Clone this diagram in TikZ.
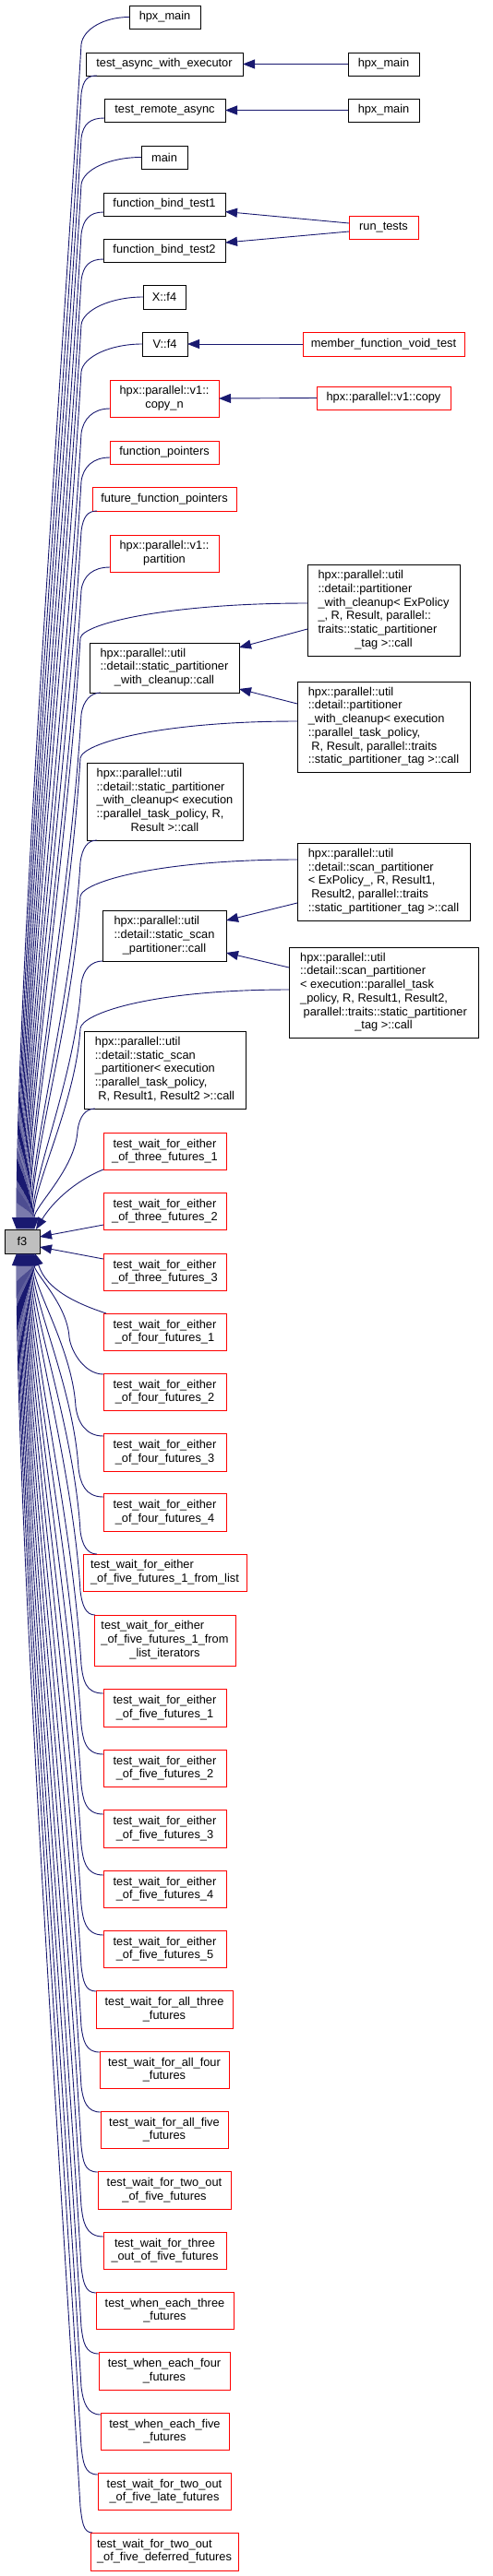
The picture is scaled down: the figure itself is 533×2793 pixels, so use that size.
\documentclass[tikz,border=0pt]{standalone}
\usepackage{fontspec}
\setmainfont{Liberation Sans}
\usetikzlibrary{arrows.meta}
\definecolor{eblue}{RGB}{25,25,112}
\definecolor{fgray}{RGB}{191,191,191}
\newcommand\bx[7]{\node[#6, minimum width={#4-#2}, minimum height={#5-#3}] (#1) at ({(#2+#4)/2},{(#3+#5)/2}) {#7};}
\newcommand\ce[6]{\pgfmathsetmacro\Lcl{0.35*abs(1346-#3)}%
  \draw[cal] (#1) .. controls +(-#6,0) and +(2,{-16*(#5)}) .. (#2,#3) .. controls +({-0.06*\Lcl},{(#5)*\Lcl}) and +(0,{-0.6*(#5)*\Lcl}) .. (#4);}
\newcommand\lct[2]{\begin{tabular}{@{}l@{}}#1\\\multicolumn{1}{@{}c@{}}{#2}\end{tabular}}
\newcommand\lft[1]{\begin{tabular}{@{}l@{}}#1\end{tabular}}
\begin{document}
\begin{tikzpicture}[x=1pt,y=-1pt,
  bk/.style={draw=black, line width=1pt, fill=white, inner sep=0pt, outer sep=0pt, font=\fontsize{12.8}{14.7}\selectfont, align=center},
  rd/.style={bk, draw=red},
  gy/.style={bk, fill=fgray},
  cal/.style={draw=eblue, line width=0.9pt, -{Triangle[length=13pt,width=10pt]}}]
\useasboundingbox (0,0) rectangle (533,2793);
% nodes
\bx{hm0}{140}{6}{217}{31}{bk}{hpx\_main}
\bx{tawe}{93}{57}{263}{82}{bk}{test\_async\_with\_executor}
\bx{hm1}{377}{57}{454}{82}{bk}{hpx\_main}
\bx{tra}{113}{107}{244}{132}{bk}{test\_remote\_async}
\bx{hm2}{377}{107}{454}{132}{bk}{hpx\_main}
\bx{mn}{153}{158}{203}{183}{bk}{main}
\bx{fb1}{112}{209}{244}{234}{bk}{function\_bind\_test1}
\bx{rt}{378}{234}{453}{259}{rd}{run\_tests}
\bx{fb2}{112}{259}{244}{284}{bk}{function\_bind\_test2}
\bx{xf}{155}{309}{201}{335}{bk}{X::f4}
\bx{vf}{154}{360}{203}{386}{bk}{V::f4}
\bx{mfv}{328}{360}{503}{386}{rd}{member\_function\_void\_test}
\bx{cpn}{119}{412}{237}{452}{rd}{hpx::parallel::v1::\\copy\_n}
\bx{cpy}{343}{419}{488}{444}{rd}{hpx::parallel::v1::copy}
\bx{fp}{119}{478}{237}{503}{rd}{function\_pointers}
\bx{ffp}{100}{528}{256}{554}{rd}{future\_function\_pointers}
\bx{prt}{119}{580}{237}{620}{rd}{hpx::parallel::v1::\\partition}
\bx{pwe}{333}{612}{498}{711}{bk}{\lct{hpx::parallel::util\\::detail::partitioner\\\_with\_cleanup< ExPolicy\\\_, R, Result, parallel::\\traits::static\_partitioner}{\_tag >::call}}
\bx{spw}{97}{697}{259}{751}{bk}{\lct{hpx::parallel::util\\::detail::static\_partitioner}{\_with\_cleanup::call}}
\bx{pwx}{322}{739}{509}{837}{bk}{\lct{hpx::parallel::util\\::detail::partitioner\\\_with\_cleanup< execution\\::parallel\_task\_policy,\\\ R, Result, parallel::traits}{::static\_partitioner\_tag >::call}}
\bx{spx}{94}{827}{263}{911}{bk}{\lct{hpx::parallel::util\\::detail::static\_partitioner\\\_with\_cleanup< execution\\::parallel\_task\_policy, R,}{Result >::call}}
\bx{spe}{322}{914}{509}{998}{bk}{\lct{hpx::parallel::util\\::detail::scan\_partitioner\\< ExPolicy\_, R, Result1,\\\ Result2, parallel::traits}{::static\_partitioner\_tag >::call}}
\bx{ssp}{111}{987}{245}{1042}{bk}{\lct{hpx::parallel::util\\::detail::static\_scan}{\_partitioner::call}}
\bx{spxx}{313}{1027}{518}{1125}{bk}{\lct{hpx::parallel::util\\::detail::scan\_partitioner\\< execution::parallel\_task\\\_policy, R, Result1, Result2,\\\ parallel::traits::static\_partitioner}{\_tag >::call}}
\bx{sspx}{91}{1118}{266}{1202}{bk}{\lct{hpx::parallel::util\\::detail::static\_scan\\\_partitioner< execution\\::parallel\_task\_policy,}{\ R, Result1, Result2 >::call}}
\bx{f3}{5}{1333}{43}{1359}{gy}{f3}
\bx{t31}{112}{1228}{245}{1268}{rd}{test\_wait\_for\_either\\\_of\_three\_futures\_1}
\bx{t32}{112}{1293}{245}{1333}{rd}{test\_wait\_for\_either\\\_of\_three\_futures\_2}
\bx{t33}{112}{1359}{245}{1399}{rd}{test\_wait\_for\_either\\\_of\_three\_futures\_3}
\bx{t41}{112}{1424}{245}{1464}{rd}{test\_wait\_for\_either\\\_of\_four\_futures\_1}
\bx{t42}{112}{1489}{245}{1529}{rd}{test\_wait\_for\_either\\\_of\_four\_futures\_2}
\bx{t43}{112}{1554}{245}{1595}{rd}{test\_wait\_for\_either\\\_of\_four\_futures\_3}
\bx{t44}{112}{1619}{245}{1660}{rd}{test\_wait\_for\_either\\\_of\_four\_futures\_4}
\bx{t5l}{90}{1685}{267}{1725}{rd}{\lft{test\_wait\_for\_either\\\_of\_five\_futures\_1\_from\_list}}
\bx{t5i}{102}{1751}{255}{1806}{rd}{\lct{test\_wait\_for\_either\\\_of\_five\_futures\_1\_from}{\_list\_iterators}}
\bx{t51}{112}{1831}{245}{1872}{rd}{test\_wait\_for\_either\\\_of\_five\_futures\_1}
\bx{t52}{112}{1897}{245}{1937}{rd}{test\_wait\_for\_either\\\_of\_five\_futures\_2}
\bx{t53}{112}{1962}{245}{2003}{rd}{test\_wait\_for\_either\\\_of\_five\_futures\_3}
\bx{t54}{112}{2028}{245}{2068}{rd}{test\_wait\_for\_either\\\_of\_five\_futures\_4}
\bx{t55}{112}{2093}{245}{2133}{rd}{test\_wait\_for\_either\\\_of\_five\_futures\_5}
\bx{ta3}{104}{2158}{252}{2199}{rd}{test\_wait\_for\_all\_three\\\_futures}
\bx{ta4}{108}{2224}{248}{2264}{rd}{test\_wait\_for\_all\_four\\\_futures}
\bx{ta5}{109}{2289}{247}{2329}{rd}{test\_wait\_for\_all\_five\\\_futures}
\bx{t2o}{106}{2354}{250}{2395}{rd}{test\_wait\_for\_two\_out\\\_of\_five\_futures}
\bx{t3o}{112}{2420}{245}{2460}{rd}{test\_wait\_for\_three\\\_out\_of\_five\_futures}
\bx{we3}{104}{2485}{253}{2525}{rd}{test\_when\_each\_three\\\_futures}
\bx{we4}{107}{2550}{249}{2591}{rd}{test\_when\_each\_four\\\_futures}
\bx{we5}{109}{2616}{248}{2656}{rd}{test\_when\_each\_five\\\_futures}
\bx{t2l}{106}{2681}{250}{2721}{rd}{test\_wait\_for\_two\_out\\\_of\_five\_late\_futures}
\bx{t2d}{98}{2746}{258}{2787}{rd}{\lft{test\_wait\_for\_two\_out\\\_of\_five\_deferred\_futures}}
% right-side edges
\draw[cal] (hm1) -- (tawe);
\draw[cal] (hm2) -- (tra);
\draw[cal] ([yshift=4.5pt]rt.west) -- ([yshift=-8pt]fb1.east);
\draw[cal] ([yshift=-4.5pt]rt.west) -- ([yshift=8.5pt]fb2.east);
\draw[cal] (mfv) -- (vf);
\draw[cal] (cpy.west) -- (cpn.east);
\draw[cal] ([yshift=-20.5pt]pwe.west) -- ([yshift=22pt]spw.east);
\draw[cal] ([yshift=25pt]pwx.west) -- ([yshift=-23pt]spw.east);
\draw[cal] ([yshift=-23pt]spe.west) -- ([yshift=16.5pt]ssp.east);
\draw[cal] ([yshift=27pt]spxx.west) -- ([yshift=-18.5pt]ssp.east);
% edges into f3 from above
\ce{hm0.west}{88}{48}{[xshift=13pt]f3.north west}{1}{28}
\ce{[xshift=12pt]tawe.south west}{88}{102}{[xshift=14pt]f3.north west}{1}{10}
\ce{[yshift=4pt]tra.south west}{88}{150}{[xshift=15pt]f3.north west}{1}{15}
\ce{mn.west}{88}{200}{[xshift=16pt]f3.north west}{1}{35}
\ce{[yshift=4pt]fb1.south west}{88}{254}{[xshift=17pt]f3.north west}{1}{15}
\ce{[yshift=3pt]fb2.south west}{88}{304}{[xshift=18pt]f3.north west}{1}{15}
\ce{xf.west}{88}{352}{[xshift=19pt]f3.north west}{1}{35}
\ce{vf.west}{88}{403}{[xshift=20pt]f3.north west}{1}{35}
\ce{[yshift=9pt]cpn.south west}{88}{470}{[xshift=21pt]f3.north west}{1}{18}
\ce{[yshift=7pt]fp.south west}{88}{522}{[xshift=22pt]f3.north west}{1}{18}
\ce{[xshift=5pt]ffp.south west}{88}{576}{[xshift=23pt]f3.north west}{1}{10}
\ce{[yshift=5pt]prt.south west}{88}{640}{[xshift=24pt]f3.north west}{1}{18}
\ce{[yshift=7.5pt]pwe.west}{87}{692}{[xshift=25pt]f3.north west}{1}{150}
\ce{[xshift=12pt]spw.south west}{88}{775}{[xshift=26pt]f3.north west}{1}{10}
\ce{[yshift=6pt]pwx.west}{87}{822}{[xshift=27pt]f3.north west}{1}{150}
\ce{[xshift=11pt]spx.south west}{87}{935}{[xshift=28pt]f3.north west}{1}{10}
\ce{[yshift=24pt]spe.west}{87}{972}{[xshift=29pt]f3.north west}{1}{150}
\ce{ssp.south west}{88}{1067}{[xshift=30pt]f3.north west}{1}{12}
\ce{[yshift=3pt]spxx.west}{87}{1115}{[xshift=31pt]f3.north west}{1}{150}
\ce{[xshift=12pt]sspx.south west}{84}{1226}{[xshift=32pt]f3.north west}{1}{10}
% edges near f3
\draw[cal] (t31.south west) .. controls +(-30,12) and +(18,-30) .. ([xshift=-4pt]f3.north east);
\draw[cal] ([yshift=5pt]t32.south west) -- ([yshift=5pt]f3.east);
\draw[cal] ([yshift=-6pt]t33.north west) -- ([yshift=-6pt]f3.east);
\draw[cal] ([xshift=3pt]t41.north west) .. controls +(-30,-10) and +(12,40) .. ([xshift=-5pt]f3.south east);
% edges into f3 from below
\ce{[yshift=-1pt]t42.north west}{75}{1450}{[xshift=32pt]f3.south west}{-1}{20}
\ce{[yshift=-3pt]t43.north west}{82}{1525}{[xshift=31pt]f3.south west}{-1}{20}
\ce{[yshift=-4pt]t44.north west}{85}{1592}{[xshift=30pt]f3.south west}{-1}{20}
\ce{[xshift=15pt]t5l.north west}{87}{1660}{[xshift=29pt]f3.south west}{-1}{10}
\ce{[xshift=1pt]t5i.north west}{87}{1725}{[xshift=28pt]f3.south west}{-1}{10}
\ce{[yshift=-5pt]t51.north west}{88}{1805}{[xshift=27pt]f3.south west}{-1}{20}
\ce{[yshift=-5pt]t52.north west}{88}{1870}{[xshift=26pt]f3.south west}{-1}{20}
\ce{[yshift=-5pt]t53.north west}{88}{1935}{[xshift=25pt]f3.south west}{-1}{20}
\ce{[yshift=-5pt]t54.north west}{88}{2000}{[xshift=24pt]f3.south west}{-1}{20}
\ce{[yshift=-5pt]t55.north west}{88}{2065}{[xshift=23pt]f3.south west}{-1}{20}
\ce{[yshift=-1pt]ta3.north west}{88}{2132}{[xshift=22pt]f3.south west}{-1}{12}
\ce{[yshift=-1pt]ta4.north west}{88}{2197}{[xshift=21pt]f3.south west}{-1}{15}
\ce{[yshift=-1pt]ta5.north west}{88}{2262}{[xshift=20pt]f3.south west}{-1}{15}
\ce{[yshift=-1pt]t2o.north west}{88}{2327}{[xshift=19pt]f3.south west}{-1}{15}
\ce{[yshift=-5pt]t3o.north west}{88}{2392}{[xshift=18pt]f3.south west}{-1}{20}
\ce{[yshift=-1pt]we3.north west}{88}{2458}{[xshift=17pt]f3.south west}{-1}{12}
\ce{[yshift=-2pt]we4.north west}{88}{2523}{[xshift=16pt]f3.south west}{-1}{15}
\ce{[yshift=-2pt]we5.north west}{88}{2588}{[xshift=15pt]f3.south west}{-1}{15}
\ce{[yshift=-2pt]t2l.north west}{88}{2653}{[xshift=14pt]f3.south west}{-1}{15}
\ce{[xshift=2pt]t2d.north west}{87}{2718}{[xshift=13pt]f3.south west}{-1}{10}
\end{tikzpicture}
\end{document}
